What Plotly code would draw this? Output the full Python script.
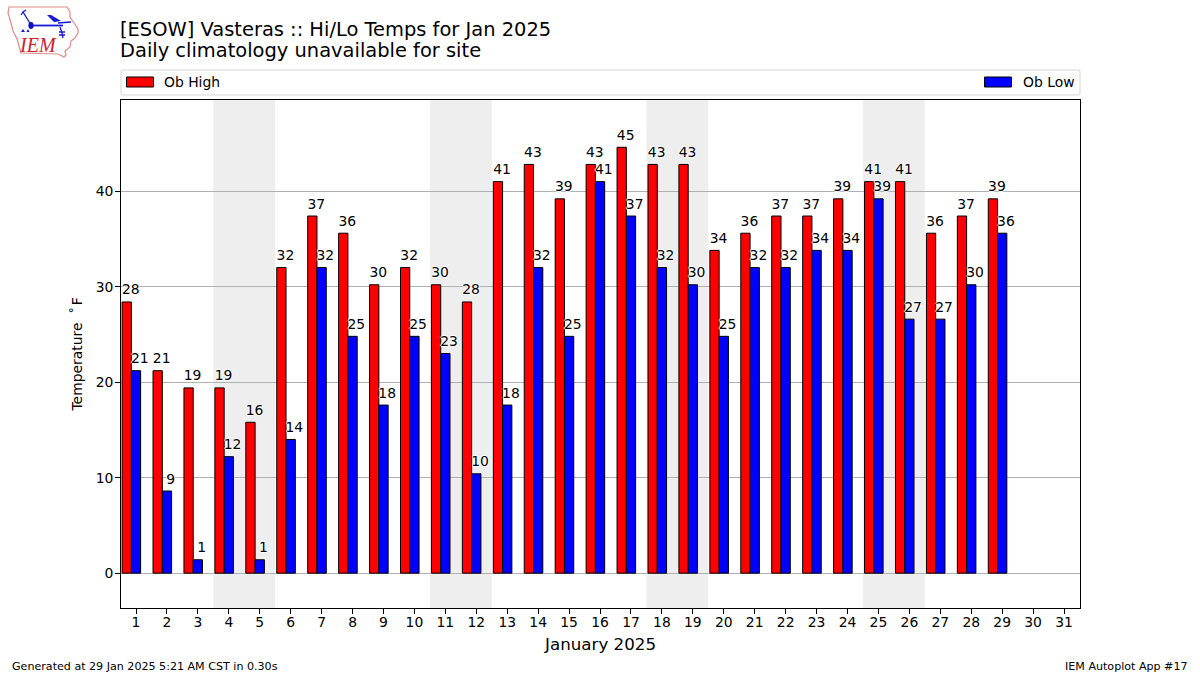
import base64
import plotly.graph_objects as go

days = list(range(1, 30))
tick_days = list(range(1, 32))
ob_high = [28.4, 21.2, 19.4, 19.4, 15.8, 32, 37.4, 35.6, 30.2, 32, 30.2, 28.4, 41, 42.8, 39.2,
           42.8, 44.6, 42.8, 42.8, 33.8, 35.6, 37.4, 37.4, 39.2, 41, 41, 35.6, 37.4, 39.2]
ob_low = [21.2, 8.6, 1.4, 12.2, 1.4, 14, 32, 24.8, 17.6, 24.8, 23, 10.4, 17.6, 32, 24.8,
          41, 37.4, 32, 30.2, 24.8, 32, 32, 33.8, 33.8, 39.2, 26.6, 26.6, 30.2, 35.6]
weekends = [(3.5, 5.5), (10.5, 12.5), (17.5, 19.5), (24.5, 26.5)]

FONT = "DejaVu Sans"
W, H = 1200, 675
L, R, T, B = 121, 1080, 100, 608


def px(x):
    return (x - L) / (R - L)


def py(y):
    return (B - y) / (B - T)


fig = go.Figure()
fig.add_bar(x=days, y=ob_high, name="Ob High", width=0.3, offset=-0.45,
            marker=dict(color="#ff0000", line=dict(color="black", width=1)),
            showlegend=False, hovertemplate="High %{y}<extra></extra>")
fig.add_bar(x=days, y=ob_low, name="Ob Low", width=0.3, offset=-0.15,
            marker=dict(color="#0000ff", line=dict(color="black", width=1)),
            showlegend=False, hovertemplate="Low %{y}<extra></extra>")
halo = "white 1px 0 1px, white -1px 0 1px, white 0 1px 1px, white 0 -1px 1px"
LIFT = 0.42
fig.add_scatter(x=[d - 0.17 for d in days], y=[v + LIFT for v in ob_high], mode="text",
                text=[f"{v:.0f}" for v in ob_high],
                textposition="top center", textfont=dict(family=FONT, size=13.9, color="black", shadow=halo),
                showlegend=False, hoverinfo="skip", cliponaxis=False)
fig.add_scatter(x=[d + 0.12 for d in days], y=[v + LIFT for v in ob_low], mode="text",
                text=[f"{v:.0f}" for v in ob_low],
                textposition="top center", textfont=dict(family=FONT, size=13.9, color="black", shadow=halo),
                showlegend=False, hoverinfo="skip", cliponaxis=False)

shapes = []
for a, b in weekends:
    shapes.append(dict(type="rect", xref="x", yref="paper", x0=a, x1=b, y0=0, y1=1, layer="below",
                       fillcolor="#eeeeee", line=dict(width=0)))
# legend frame + swatches
shapes.append(dict(type="path", xref="paper", yref="paper", layer="above",
                   path="M {} {} L {} {} Q {} {} {} {} L {} {} Q {} {} {} {} L {} {} Q {} {} {} {} L {} {} Q {} {} {} {} Z".format(
                       px(123), py(70), px(1078), py(70), px(1080), py(70), px(1080), py(72),
                       px(1080), py(93), px(1080), py(95), px(1078), py(95),
                       px(123), py(95), px(121), py(95), px(121), py(93),
                       px(121), py(72), px(121), py(70), px(123), py(70)),
                   fillcolor="white", line=dict(color="#d5d5d5", width=1)))
shapes.append(dict(type="rect", xref="paper", yref="paper", x0=px(126.5), x1=px(153.5), y0=py(87), y1=py(77),
                   fillcolor="#ff0000", line=dict(color="black", width=1)))
shapes.append(dict(type="rect", xref="paper", yref="paper", x0=px(984.5), x1=px(1011.5), y0=py(87), y1=py(77),
                   fillcolor="#0000ff", line=dict(color="black", width=1)))

ann = [
    dict(text="[ESOW] Vasteras :: Hi/Lo Temps for Jan 2025", x=px(118), y=py(29), size=19.45, xanchor="left"),
    dict(text="Daily climatology unavailable for site", x=px(118), y=py(51), size=19.45, xanchor="left"),
    dict(text="Ob High", x=px(162), y=py(82), size=13.9, xanchor="left"),
    dict(text="Ob Low", x=px(1021), y=py(82), size=13.9, xanchor="left"),
    dict(text="January 2025", x=px(600), y=py(644), size=16.7, xanchor="center"),
    dict(text="Generated at 29 Jan 2025 5:21 AM CST in 0.30s", x=px(10), y=py(666), size=11.1, xanchor="left"),
    dict(text="IEM Autoplot App #17", x=px(1190), y=py(666), size=11.1, xanchor="right"),
]
annotations = [dict(text=a["text"], x=a["x"], y=a["y"], xref="paper", yref="paper", xanchor=a["xanchor"],
                    yanchor="middle", showarrow=False, font=dict(family=FONT, size=a["size"], color="black"))
               for a in ann]
annotations.append(dict(text="Temperature \u00a0˚\u200aF", x=px(76), y=py(354.5), xref="paper", yref="paper",
                        xanchor="center", yanchor="middle",
                        textangle=-90, showarrow=False, font=dict(family=FONT, size=13.9, color="black")))
annotations.append(dict(text="IEM", x=px(37.5), y=py(45), xref="paper", yref="paper", showarrow=False,
                        xanchor="center", yanchor="middle",
                        font=dict(family="Liberation Serif", size=20, color="#d02030", style="italic")))

# decorative site logo (Iowa outline and station glyph)
logo_svg = """<svg xmlns='http://www.w3.org/2000/svg' viewBox='0 0 80 60' width='80' height='60'>
<path d='M4 4 L62 4 L65 9 L65 14 L69 20 L73 26 L73 30 L70 35 L66 38 L65 44 L60 48 L61 52 L59 54 L53 51 L16 50 L14 43 L12 36 L8 28 L6 20 L3 10 Z'
 fill='none' stroke='#e08a8a' stroke-width='1.2'/>
<path d='M26 22.5 L58 22.5' fill='none' stroke='#1818d8' stroke-width='1.8'/>
<path d='M26 22 L18 9 L16 12 M18 9 L21 7 M53 20 L66 19 M55 24 L57 30 L58 35 M54 29 L60 29 M54 32 L60 32' fill='none' stroke='#1818d8' stroke-width='1.3'/>
<path d='M42 12 L46 12 L56 18 L49 19 Z' fill='#1818d8'/>
<ellipse cx='26' cy='22.5' rx='2.6' ry='3.4' fill='#1010c0'/>
<path d='M18 26 l2 3 h-4 z M23 26 l1.5 3 h-3 z' fill='#1818d8'/>
</svg>"""
logo = "data:image/svg+xml;base64," + base64.b64encode(logo_svg.encode()).decode()

fig.update_layout(
    width=W, height=H, autosize=False,
    margin=dict(l=L, r=W - R, t=T, b=H - B),
    paper_bgcolor="white", plot_bgcolor="white",
    barmode="overlay",
    font=dict(family=FONT, size=13.9, color="black"),
    showlegend=False,
    shapes=shapes, annotations=annotations,
    images=[dict(source=logo, xref="paper", yref="paper", x=px(5), y=py(3), sizex=80 / (R - L), sizey=60 / (B - T),
                 xanchor="left", yanchor="top", sizing="stretch", layer="above")],
    xaxis=dict(range=[0.515, 31.515], tickmode="array", tickvals=tick_days, ticktext=[str(d) for d in tick_days],
               ticks="outside", ticklen=4.9, tickwidth=1, tickcolor="black", showgrid=False, zeroline=False,
               showline=True, linecolor="black", linewidth=1, mirror=True, tickfont=dict(family=FONT, size=13.9),
               ticklabelstandoff=-4),
    yaxis=dict(range=[-3.65, 49.55], tickmode="array", tickvals=[0, 10, 20, 30, 40],
               ticks="outside", ticklen=4.9, tickwidth=1, tickcolor="black", showgrid=True, gridcolor="#b0b0b0",
               gridwidth=1, zeroline=False, showline=True, linecolor="black", linewidth=1, mirror=True,
               tickfont=dict(family=FONT, size=13.9), ticklabelstandoff=-1),
)
fig.write_html("out.html", config=dict(displayModeBar=False),
               post_script="document.body.style.margin='0';document.body.style.overflow='hidden';")
